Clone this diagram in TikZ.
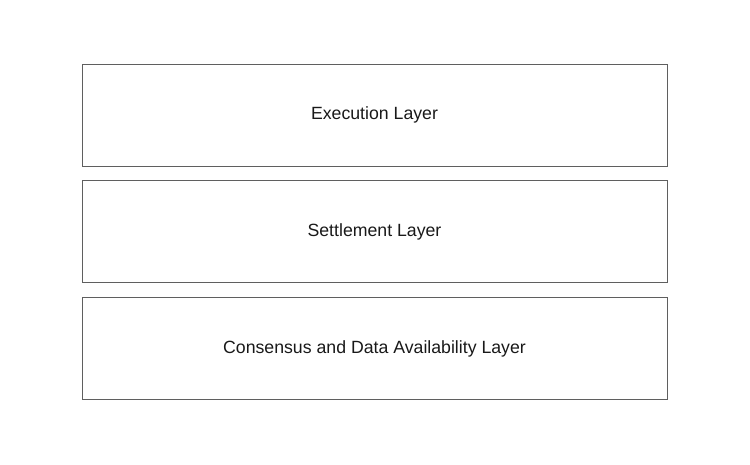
\documentclass[tikz,border=0pt]{standalone}
\usepackage{fontspec}
\setmainfont{Liberation Sans}
\usetikzlibrary{positioning}
\definecolor{layerline}{HTML}{5F5F5F}
\begin{document}
\begin{tikzpicture}[x=1pt,y=1pt,
  layer/.style={shape=rectangle,draw=layerline,line width=0.9pt,minimum width=585pt,minimum height=102pt,font=\fontsize{17.7}{21}\selectfont,text=black!90}]
  \useasboundingbox (0,0) rectangle (750,464);
  \node[layer] (exec) at (374.5,349) {Execution Layer};
  \node[layer,below=14pt of exec] (settle) {Settlement Layer};
  \node[layer,below=14pt of settle] (consensus) {Consensus and Data Availability Layer};
\end{tikzpicture}
\end{document}
